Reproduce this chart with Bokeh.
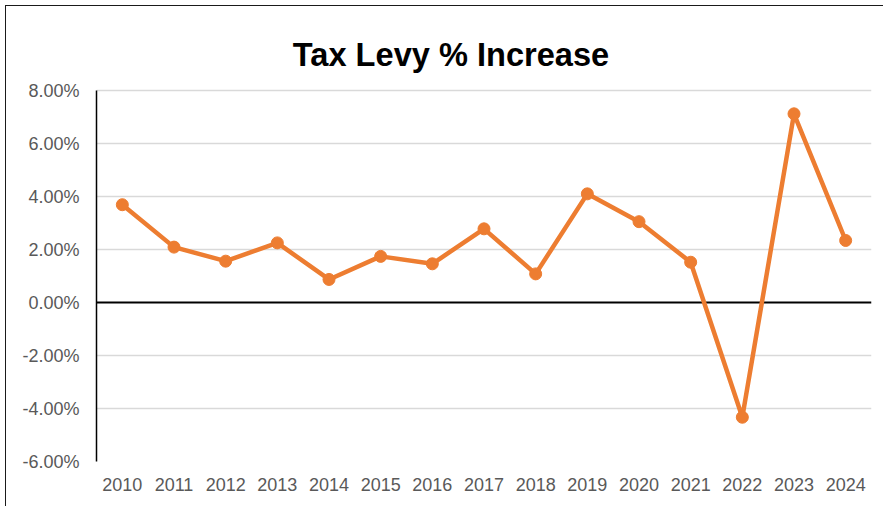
from bokeh.plotting import figure
from bokeh.models import Range1d, FactorRange, FixedTicker, NumeralTickFormatter, Span
from bokeh.core.properties import value
from bokeh.embed import file_html
from bokeh.resources import INLINE

title_text = "Tax Levy % Increase"
years = ["2010", "2011", "2012", "2013", "2014", "2015", "2016", "2017",
         "2018", "2019", "2020", "2021", "2022", "2023", "2024"]
levy_increase = [0.0369, 0.0209, 0.0156, 0.0225, 0.0087, 0.0174, 0.0146, 0.0278,
                 0.0108, 0.0410, 0.0305, 0.0152, -0.0433, 0.0712, 0.0234]
y_ticks = [-0.06, -0.04, -0.02, 0.0, 0.02, 0.04, 0.06, 0.08]

ORANGE = "#ED7D31"
LABEL_GRAY = "#595959"
FONT = "Liberation Sans"

# layout (pixels)
W, H = 878, 501
BORDER_L, BORDER_R, BORDER_B = 90, 13, 46
AXIS_PX = 371            # pixel height of the -6%..8% axis
frame_h = H - BORDER_B   # frame reaches the canvas top; title lives inside it
y_lo, y_hi = y_ticks[0], y_ticks[-1]
y_end = y_lo + (y_hi - y_lo) * frame_h / AXIS_PX

p = figure(width=W, height=H, output_backend="svg", toolbar_location=None,
           x_range=FactorRange(*years), y_range=Range1d(y_lo, y_end),
           min_border_left=BORDER_L, min_border_top=0, min_border_right=BORDER_R,
           min_border_bottom=BORDER_B, margin=(5, 0, 0, 5),
           styles={"border-left": "1px solid #1a1a1a", "border-top": "1px solid #1a1a1a"})
p.outline_line_color = None
p.background_fill_color = "white"
p.border_fill_color = "white"

# y axis
p.yaxis.ticker = FixedTicker(ticks=y_ticks)
p.yaxis.formatter = NumeralTickFormatter(format="0.00%")
p.yaxis.bounds = (y_lo, y_hi)
p.yaxis.major_tick_line_color = None
p.yaxis.minor_tick_line_color = None
p.yaxis.major_tick_out = 0
p.yaxis.major_tick_in = 0
p.yaxis.axis_line_color = "black"
p.yaxis.axis_line_width = 1.5
p.yaxis.major_label_standoff = 17
p.yaxis.major_label_text_font = FONT
p.yaxis.major_label_text_font_size = "18px"
p.yaxis.major_label_text_color = LABEL_GRAY

# x axis
p.xaxis.axis_line_color = None
p.xaxis.major_tick_line_color = None
p.xaxis.minor_tick_line_color = None
p.xaxis.major_tick_out = 0
p.xaxis.major_tick_in = 0
p.xaxis.major_label_standoff = 16
p.xaxis.major_label_text_font = FONT
p.xaxis.major_label_text_font_size = "18px"
p.xaxis.major_label_text_color = LABEL_GRAY

# grid
p.xgrid.grid_line_color = None
p.ygrid.ticker = FixedTicker(ticks=[t for t in y_ticks if t != 0.0])
p.ygrid.grid_line_color = "#D9D9D9"
p.ygrid.grid_line_width = 1.3

zero = Span(location=0, dimension="width", line_color="black", line_width=2, level="underlay")
p.add_layout(zero)

p.line(x=years, y=levy_increase, line_color=ORANGE, line_width=4.5)
p.scatter(x=years, y=levy_increase, marker="circle", size=12, fill_color=ORANGE, line_color=ORANGE)

# chart title, placed above the top gridline
p.text(x=[years[7]], y=[y_hi], text=[title_text], x_offset=-33, y_offset=-35.7,
       text_align="center", text_baseline="alphabetic", text_font=value(FONT),
       text_font_size="32.6px", text_font_style="bold", text_color="black")

open("out.html", "w").write(file_html(p, INLINE))
